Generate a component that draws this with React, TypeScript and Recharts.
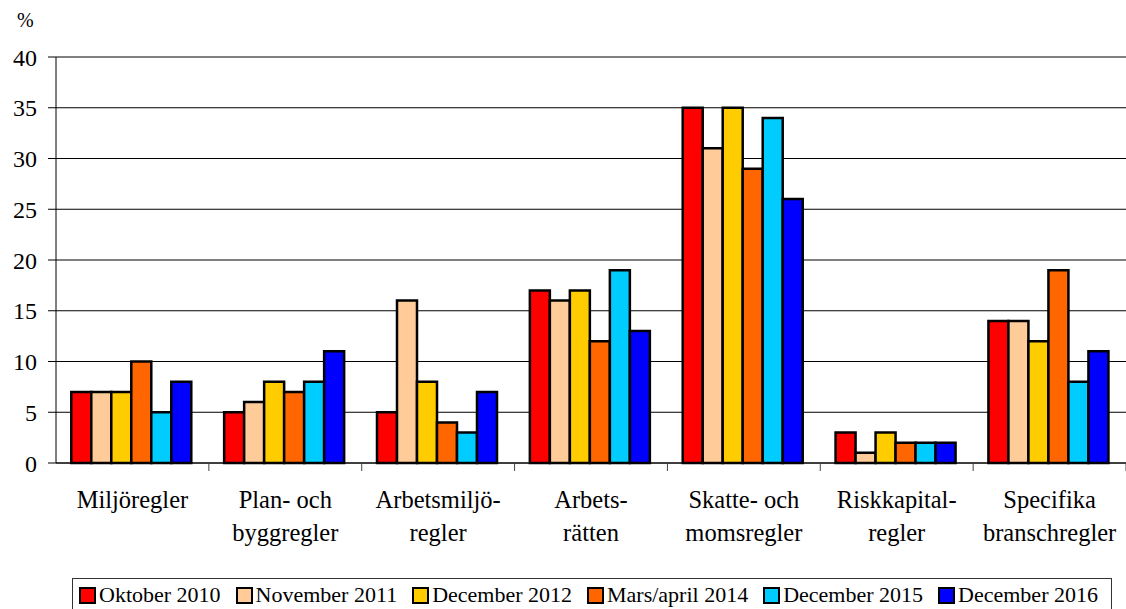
import React from "react";
import {
  BarChart,
  Bar,
  XAxis,
  YAxis,
  CartesianGrid,
  Legend,
} from "recharts";

const categories = [
  ["Miljöregler"],
  ["Plan- och", "byggregler"],
  ["Arbetsmiljö-", "regler"],
  ["Arbets-", "rätten"],
  ["Skatte- och", "momsregler"],
  ["Riskkapital-", "regler"],
  ["Specifika", "branschregler"],
];

const seriesNames = [
  "Oktober 2010",
  "November 2011",
  "December 2012",
  "Mars/april 2014",
  "December 2015",
  "December 2016",
];

const okt2010 = [7, 5, 5, 17, 35, 3, 14];
const nov2011 = [7, 6, 16, 16, 31, 1, 14];
const dec2012 = [7, 8, 8, 17, 35, 3, 12];
const mar2014 = [10, 7, 4, 12, 29, 2, 19];
const dec2015 = [5, 8, 3, 19, 34, 2, 8];
const dec2016 = [8, 11, 7, 13, 26, 2, 11];

const yTicks = [0, 5, 10, 15, 20, 25, 30, 35, 40];

const colors = ["#FF0000", "#FFCC99", "#FFCC00", "#FF6600", "#00CCFF", "#0000FF"];
const allSeries = [okt2010, nov2011, dec2012, mar2014, dec2015, dec2016];

const data = categories.map((lines, i) => {
  const row: Record<string, any> = { name: lines.join(" "), idx: i };
  seriesNames.forEach((s, k) => {
    row[s] = allSeries[k][i];
  });
  return row;
});

const FONT = "'Liberation Serif', 'Times New Roman', serif";
const WIDTH = 1126;
const PLOT_LEFT = 56;
const halfBand = (WIDTH - PLOT_LEFT) / categories.length / 2;

const CategoryTick = (props: any) => {
  const { x, y, payload } = props;
  const lines = categories[payload.index] || [payload.value];
  return (
    <g>
      <line x1={x + halfBand} y1={y - 8} x2={x + halfBand} y2={y} stroke="#444" strokeWidth={1} />
      <text x={x} y={y + 37} textAnchor="middle" fontFamily={FONT} fontSize={24.5} fill="#000">
        {lines.map((l: string, i: number) => (
          <tspan key={i} x={x} dy={i === 0 ? 0 : 33}>
            {l}
          </tspan>
        ))}
      </text>
    </g>
  );
};

const LegendBox = () => (
  <div
    style={{
      marginLeft: 72,
      width: 1040,
      height: 36,
      border: "1px solid #333",
      borderBottom: "none",
      boxSizing: "border-box",
      display: "flex",
      alignItems: "flex-start",
      paddingLeft: 6,
      paddingTop: 3,
      fontFamily: FONT,
      fontSize: 22,
      lineHeight: "26px",
      color: "#000",
      whiteSpace: "nowrap",
    }}
  >
    {seriesNames.map((s, i) => (
      <span key={s} style={{ display: "inline-flex", alignItems: "center", marginRight: 15 }}>
        <span
          style={{
            display: "inline-block",
            width: 13,
            height: 13,
            background: colors[i],
            border: "2px solid #000",
            marginRight: 3,
          }}
        />
        {s}
      </span>
    ))}
  </div>
);

export default function App() {
  return (
    <div style={{ position: "absolute", left: 0, top: 0, width: WIDTH, height: 609, background: "#fff", overflow: "hidden" }}>
      <div
        style={{
          position: "absolute",
          left: 17,
          top: 9,
          fontFamily: FONT,
          fontSize: 20,
        }}
      >
        %
      </div>
      <BarChart
        width={WIDTH}
        height={609}
        data={data}
        margin={{ top: 57, right: 0, left: 0, bottom: -5 }}
        barCategoryGap="10%"
        barGap={0}
      >
        <CartesianGrid vertical={false} stroke="#000" strokeWidth={1} />
        <YAxis
          width={PLOT_LEFT}
          domain={[0, 40]}
          ticks={yTicks}
          interval={0}
          tick={{ fontFamily: FONT, fontSize: 24, fill: "#000" }}
          tickLine={{ stroke: "#000" }}
          tickSize={8}
          tickMargin={11}
          axisLine={{ stroke: "#000" }}
        />
        <XAxis
          dataKey="name"
          interval={0}
          height={115}
          tick={<CategoryTick />}
          tickLine={false}
          axisLine={{ stroke: "#000" }}
        />
        <Legend verticalAlign="bottom" content={<LegendBox />} wrapperStyle={{ bottom: -5, left: 0 }} />
        {seriesNames.map((s, i) => (
          <Bar
            key={s}
            dataKey={s}
            fill={colors[i]}
            stroke="#000"
            strokeWidth={2.5}
            isAnimationActive={false}
          />
        ))}
      </BarChart>
    </div>
  );
}
